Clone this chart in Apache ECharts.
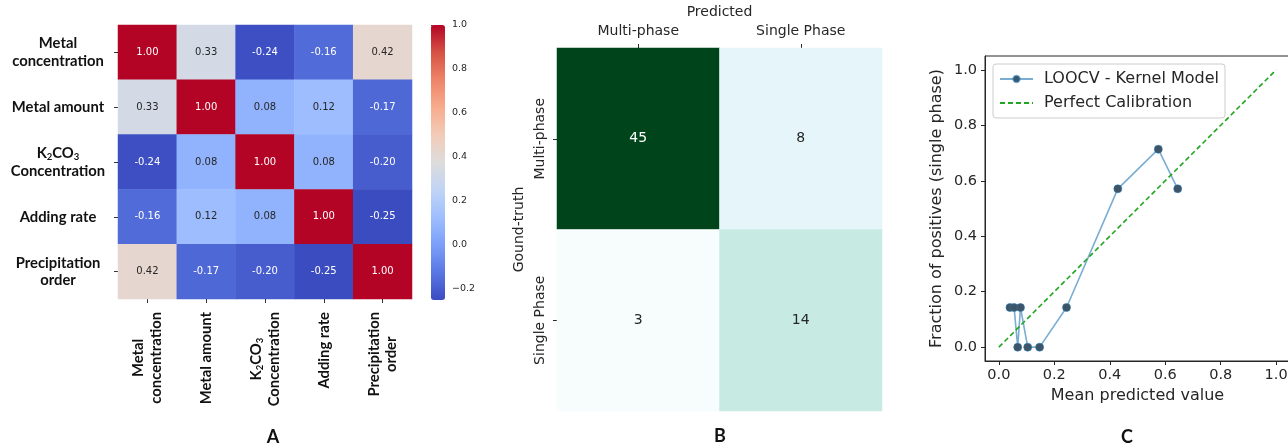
<!DOCTYPE html>
<html>
<head>
<meta charset="utf-8">
<script src="https://cdn.jsdelivr.net/npm/echarts@6/dist/echarts.min.js"></script>
<style>html,body{margin:0;padding:0;background:#fff}#c{width:1288px;height:444px}</style>
</head>
<body>
<div id="c"></div>
<script>
// ---------- Panel A: correlation heatmap ----------
const features = ['Metal concentration', 'Metal amount', 'K2CO3 Concentration', 'Adding rate', 'Precipitation order'];
const featureLabels = [
  '{b|Metal}\n{b|concentration}',
  '{b|Metal amount}',
  '{b|K}{s|2}{b|CO}{s|3}\n{b|Concentration}',
  '{b|Adding rate}',
  '{b|Precipitation}\n{b|order}'
];
const corrRow0 = [1.00, 0.33, -0.24, -0.16, 0.42];
const corrRow1 = [0.33, 1.00, 0.08, 0.12, -0.17];
const corrRow2 = [-0.24, 0.08, 1.00, 0.08, -0.20];
const corrRow3 = [-0.16, 0.12, 0.08, 1.00, -0.25];
const corrRow4 = [0.42, -0.17, -0.20, -0.25, 1.00];
const corrRows = [corrRow0, corrRow1, corrRow2, corrRow3, corrRow4];
const colorbarTicks = [-0.2, 0.0, 0.2, 0.4, 0.6, 0.8, 1.0];

// ---------- Panel B: confusion matrix ----------
const classes = ['Multi-phase', 'Single Phase'];
const cmRow0 = [45, 8];
const cmRow1 = [3, 14];
const cmRows = [cmRow0, cmRow1];

// ---------- Panel C: calibration curve ----------
const calMeanPred = [0.040, 0.055, 0.068, 0.078, 0.104, 0.147, 0.244, 0.429, 0.575, 0.645];
const calFracPos  = [0.143, 0.143, 0.000, 0.143, 0.000, 0.000, 0.143, 0.571, 0.714, 0.571];
const perfectX = [0, 1];
const perfectY = [0, 1];
const calTicks = [0, 0.2, 0.4, 0.6, 0.8, 1.0];

const coolwarm = ['#3b4cc0', '#5977e3', '#7b9ff9', '#9ebeff', '#c0d4f5', '#dddcdc', '#f2cbb7', '#f7ac8e', '#ee8468', '#d65244', '#b40426'];
const bugn = ['#f7fcfd', '#e5f5f9', '#ccece6', '#99d8c9', '#66c2a4', '#41ae76', '#238b45', '#006d2c', '#00441b'];

const corrData = [];
corrRows.forEach((row, i) => row.forEach((v, j) => {
  corrData.push({ value: [j, i, v], label: { color: (v < -0.1 || v > 0.7) ? '#ffffff' : '#262626' } });
}));
const cmData = [];
cmRows.forEach((row, i) => row.forEach((v, j) => {
  cmData.push({ value: [j, i, v], label: { color: v > 30 ? '#ffffff' : '#262626' } });
}));
const calData = calMeanPred.map((x, i) => [x, calFracPos[i]]);
const perfectData = perfectX.map((x, i) => [x, perfectY[i]]);

const richA = {
  b: { fontFamily: 'Lato', fontWeight: 'bold', fontSize: 14.8, lineHeight: 17.5, align: 'center', color: '#111' },
  s: { fontFamily: 'Lato', fontWeight: 'bold', fontSize: 9.5, lineHeight: 9, verticalAlign: 'bottom', align: 'center', color: '#111' }
};
const txt = '#262626';
const dv = 'DejaVu Sans';
const clear = 'rgba(0,0,0,0)';

const chart = echarts.init(document.getElementById('c'), null, { renderer: 'canvas' });
chart.setOption({
  animation: false,
  backgroundColor: '#ffffff',
  grid: [
    { left: 118, top: 25, width: 294, height: 274, outerBoundsMode: 'none' },
    { left: 431, top: 25, width: 14, height: 275, outerBoundsMode: 'none' },
    { left: 557, top: 48, width: 325, height: 363, outerBoundsMode: 'none' },
    { left: 985, top: 56, width: 305, height: 305, outerBoundsMode: 'none', show: true, borderColor: txt, borderWidth: 1, backgroundColor: 'transparent' }
  ],
  xAxis: [
    { gridIndex: 0, type: 'category', data: features, position: 'bottom',
      axisLine: { show: false }, splitLine: { show: false },
      axisTick: { show: true, alignWithLabel: true, length: 4, lineStyle: { color: '#333' } },
      axisLabel: { rotate: 90, margin: 13, interval: 0, formatter: (v, i) => featureLabels[i], rich: richA } },
    { gridIndex: 1, type: 'value', show: false, min: 0, max: 1 },
    { gridIndex: 2, type: 'category', data: classes, position: 'top',
      name: 'Predicted', nameLocation: 'middle', nameGap: 27,
      nameTextStyle: { fontFamily: dv, fontSize: 14, color: txt },
      axisLine: { show: false }, splitLine: { show: false },
      axisTick: { show: true, alignWithLabel: true, length: 4, lineStyle: { color: txt } },
      axisLabel: { margin: 10, fontFamily: dv, fontSize: 14, color: txt } },
    { gridIndex: 3, type: 'value', min: -0.05, max: 1.05,
      name: 'Mean predicted value', nameLocation: 'middle', nameGap: 27,
      nameTextStyle: { fontFamily: dv, fontSize: 16, color: txt },
      axisLine: { show: true, onZero: false, lineStyle: { color: txt, width: 1 } },
      splitLine: { show: false },
      axisTick: { show: true, length: 4, customValues: calTicks, lineStyle: { color: txt } },
      axisLabel: { margin: 7, customValues: calTicks, formatter: v => v.toFixed(1), fontFamily: dv, fontSize: 14.5, color: txt } }
  ],
  yAxis: [
    { gridIndex: 0, type: 'category', data: features, inverse: true,
      axisLine: { show: false }, splitLine: { show: false },
      axisTick: { show: true, alignWithLabel: true, length: 4, lineStyle: { color: '#333' } },
      axisLabel: { margin: 60, align: 'center', interval: 0, formatter: (v, i) => featureLabels[i], rich: richA } },
    { gridIndex: 1, type: 'value', min: -0.25, max: 1.0, position: 'right',
      axisLine: { show: false }, splitLine: { show: false },
      axisTick: { show: true, length: 3.5, customValues: colorbarTicks, lineStyle: { color: '#333' } },
      axisLabel: { margin: 7, customValues: colorbarTicks, fontFamily: dv, fontSize: 9.5, color: txt,
        formatter: v => (v < 0 ? '\u2212' : '') + Math.abs(v).toFixed(1) } },
    { gridIndex: 2, type: 'category', data: classes, inverse: true,
      name: 'Gound-truth', nameLocation: 'middle', nameGap: 31, nameRotate: 90,
      nameTextStyle: { fontFamily: dv, fontSize: 14, color: txt },
      axisLine: { show: false }, splitLine: { show: false },
      axisTick: { show: true, alignWithLabel: true, length: 4, lineStyle: { color: txt } },
      axisLabel: { rotate: 90, margin: 10, fontFamily: dv, fontSize: 14, color: txt } },
    { gridIndex: 3, type: 'value', min: -0.05, max: 1.05,
      name: 'Fraction of positives (single phase)', nameLocation: 'middle', nameGap: 40, nameRotate: 90,
      nameTextStyle: { fontFamily: dv, fontSize: 16, color: txt },
      axisLine: { show: true, onZero: false, lineStyle: { color: txt, width: 1 } },
      splitLine: { show: false },
      axisTick: { show: true, length: 4, customValues: calTicks, lineStyle: { color: txt } },
      axisLabel: { margin: 8, customValues: calTicks, formatter: v => v.toFixed(1), fontFamily: dv, fontSize: 14.5, color: txt } }
  ],
  visualMap: [
    { type: 'continuous', seriesIndex: 0, min: -0.25, max: 1.0, show: true, calculable: false,
      left: 431, top: 25, itemWidth: 14, itemHeight: 275, padding: 0, text: null,
      inRange: { color: coolwarm }, hoverLink: false },
    { type: 'continuous', seriesIndex: 1, min: 3, max: 45, show: false, inRange: { color: bugn } }
  ],
  legend: {
    data: [
      { name: 'LOOCV - Kernel Model' },
      { name: 'Perfect Calibration', itemStyle: { color: clear, borderWidth: 0, opacity: 0 } }
    ],
    orient: 'vertical', left: 993, top: 64, padding: [7, 6, 7, 6],
    itemWidth: 33, itemHeight: 8, itemGap: 8,
    backgroundColor: '#ffffff', borderColor: '#cccccc', borderWidth: 1, borderRadius: 3,
    textStyle: { fontFamily: dv, fontSize: 16, color: txt, padding: [0, 0, 0, 6] }
  },
  series: [
    { type: 'heatmap', xAxisIndex: 0, yAxisIndex: 0, data: corrData,
      itemStyle: { borderWidth: 0 },
      label: { show: true, fontFamily: dv, fontSize: 10, formatter: p => p.value[2].toFixed(2) },
      emphasis: { disabled: true } },
    { type: 'heatmap', xAxisIndex: 2, yAxisIndex: 2, data: cmData,
      itemStyle: { borderWidth: 0 },
      label: { show: true, fontFamily: dv, fontSize: 14, formatter: p => String(p.value[2]) },
      emphasis: { disabled: true } },
    { type: 'line', name: 'LOOCV - Kernel Model', xAxisIndex: 3, yAxisIndex: 3, data: calData,
      symbol: 'circle', symbolSize: 8, showAllSymbol: true,
      lineStyle: { color: 'rgba(31,119,180,0.6)', width: 1.6 },
      itemStyle: { color: '#3f5566', borderColor: 'rgba(31,119,180,0.55)', borderWidth: 1, opacity: 1 },
      emphasis: { disabled: true }, z: 3 },
    { type: 'line', name: 'Perfect Calibration', xAxisIndex: 3, yAxisIndex: 3, data: perfectData,
      symbol: 'none', lineStyle: { color: '#1fa81f', width: 1.6, type: [5, 3] },
      itemStyle: { color: clear },
      emphasis: { disabled: true }, z: 4 }
  ],
  graphic: [
    { type: 'text', x: 273, y: 437, style: { text: 'A', fontFamily: 'Lato', fontWeight: 'bold', fontSize: 18, fill: '#111', align: 'center', verticalAlign: 'middle' } },
    { type: 'text', x: 720, y: 436, style: { text: 'B', fontFamily: 'Lato', fontWeight: 'bold', fontSize: 18, fill: '#111', align: 'center', verticalAlign: 'middle' } },
    { type: 'text', x: 1127, y: 437, style: { text: 'C', fontFamily: 'Lato', fontWeight: 'bold', fontSize: 18, fill: '#111', align: 'center', verticalAlign: 'middle' } }
  ]
});
</script>
</body>
</html>
